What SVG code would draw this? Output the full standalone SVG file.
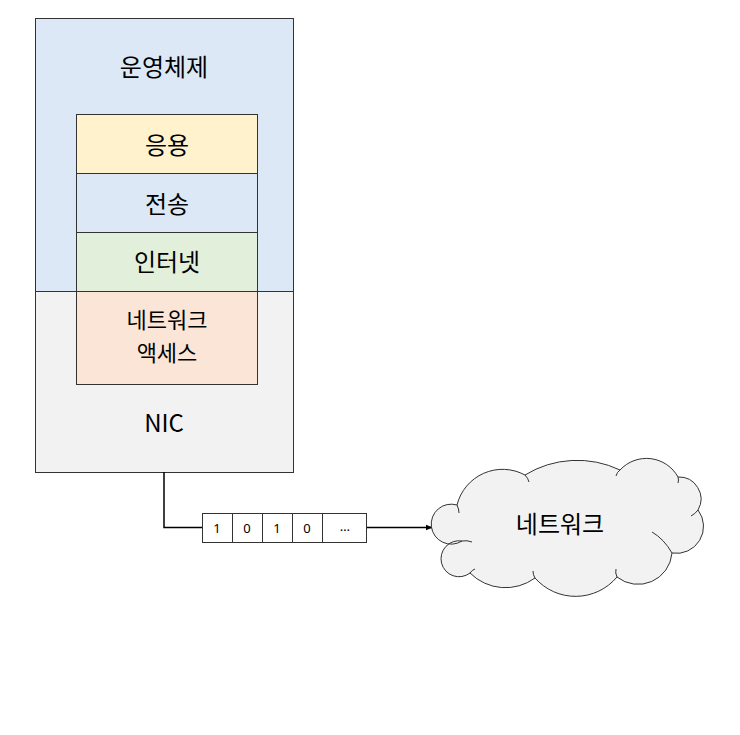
<svg xmlns="http://www.w3.org/2000/svg" width="740" height="735" viewBox="0 0 740 735">
<style>
text{font-family:"Noto Sans CJK KR","Noto Sans",sans-serif;fill:#000;text-anchor:middle;dominant-baseline:central}
.big{font-size:24px}
.two{font-size:22px}
.bit{font-size:13px;font-family:"Noto Sans","Noto Sans CJK KR",sans-serif}
.box{stroke:#333;stroke-width:1}
.ln{fill:none;stroke:#000;stroke-width:1.5}
</style>
<defs>
<marker id="arr" viewBox="0 0 10 10" refX="9" refY="5" markerWidth="7" markerHeight="7" markerUnits="userSpaceOnUse" orient="auto">
<path d="M0,1 L10,5 L0,9 Z" fill="#000"/>
</marker>
</defs>
<rect width="740" height="735" fill="#fff"/>
<g id="os">
<rect class="box" x="35.5" y="18.5" width="258" height="273" fill="#dce8f5"/>
<text class="big" x="164" y="65">운영체제</text>
</g>
<g id="nic">
<rect class="box" x="35.5" y="291.5" width="258" height="181" fill="#f2f2f2"/>
<text class="big" x="164" y="421">NIC</text>
</g>
<g id="app">
<rect class="box" x="76.5" y="114.5" width="181" height="59" fill="#fff2cc"/>
<text class="big" x="167" y="143">응용</text>
</g>
<g id="transport">
<rect class="box" x="76.5" y="173.5" width="181" height="59" fill="#dce8f5"/>
<text class="big" x="167" y="202">전송</text>
</g>
<g id="internet">
<rect class="box" x="76.5" y="232.5" width="181" height="59" fill="#e2efda"/>
<text class="big" x="167" y="260">인터넷</text>
</g>
<g id="netaccess">
<rect class="box" x="76.5" y="291.5" width="181" height="93" fill="#fbe5d6"/>
<text class="two" x="167" y="318">네트워크</text>
<text class="two" x="167" y="351">액세스</text>
</g>
<g id="connectors">
<path class="ln" d="M164,472 V527.5 H202"/>
<path class="ln" d="M367,527.5 H432" marker-end="url(#arr)"/>
</g>
<g id="bits">
<rect class="box" x="202.5" y="513.5" width="164" height="29" fill="#fff"/>
<path class="box" d="M232.5,513.5 V542.5 M262.5,513.5 V542.5 M292.5,513.5 V542.5 M322.5,513.5 V542.5" fill="none"/>
<text class="bit" x="217" y="528">1</text>
<text class="bit" x="247" y="528">0</text>
<text class="bit" x="277" y="528">1</text>
<text class="bit" x="307" y="528">0</text>
<text class="bit" x="345" y="526">…</text>
</g>
<g id="network">
<path d="M457,505 A47,47 0 0 1 525,475 A100,100 0 0 1 620,470 A36,36 0 0 1 678,477 A22,22 0 0 1 698,510 A27,27 0 0 1 672,553 A34,34 0 0 1 617,577 A54,54 0 0 1 535,578 A50,50 0 0 1 470,573 A18,18 0 1 1 462,541 A20,20 0 1 1 457,505 Z" fill="#f2f2f2" stroke="#333" stroke-width="1"/>
<path d="M457,505 q2,4 2,8 M525,475 q3,3 4,7 M620,470 q-3,2 -4,6 M678,477 q1,3 0,6 M698,510 q-3,4 -7,6 M672,553 q-8,-14 -20,-21 M617,577 q-2,-4 -1,-8 M535,578 q-2,-3 -2,-7 M470,573 q2,-3 5,-4 M462,541 q5,-1 10,1" fill="none" stroke="#333" stroke-width="1"/>
<text class="big" x="560" y="522">네트워크</text>
</g>
</svg>
